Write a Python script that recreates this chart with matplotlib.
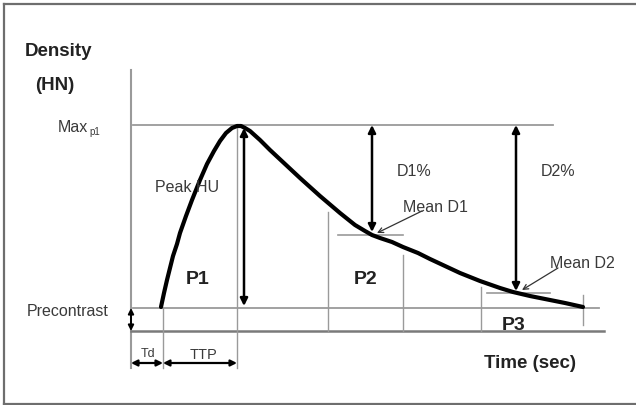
import matplotlib
matplotlib.use('Agg')
import matplotlib.pyplot as plt

plt.rcParams['font.family'] = ['Liberation Sans', 'DejaVu Sans']

# enhancement curve, in image pixel units (x right, y down)
curve_x = [161, 164, 167, 170, 173, 177, 180, 186, 192, 200, 207, 214, 220, 226,
           232, 237, 241, 245, 250, 260, 270, 285, 300, 320, 340, 355, 365, 372,
           380, 392, 403, 418, 430, 445, 460, 480, 500, 513, 530, 545, 565, 583]
curve_y = [307, 293, 280, 268, 256, 244, 233, 216, 200, 180, 164, 151, 141, 133,
           128, 126, 126, 128, 131, 140, 150, 164, 178, 196, 213, 225, 231, 235,
           238, 242, 247, 253, 259, 266, 273, 281, 288, 292, 296, 299, 303, 307]

y_max = 125
y_pre = 308
y_base = 331
x_axis = 131
x_td = 163
x_peak = 237
x_p2 = [328, 403, 481, 583]
top_p2 = [212, 255, 287, 295]

fig = plt.figure(figsize=(6.36, 4.05), dpi=100)
ax = fig.add_axes([0, 0, 1, 1])
ax.set_xlim(0, 636)
ax.set_ylim(405, 0)
ax.axis('off')

# frame
gray_f = '#6e6e6e'
ax.plot([4, 636], [4, 4], color=gray_f, lw=1.6)
ax.plot([4, 4], [4, 404], color=gray_f, lw=1.6)
ax.plot([4, 636], [404, 404], color=gray_f, lw=1.6)

g = '#9a9a9a'
# axes and reference lines
ax.plot([x_axis, x_axis], [70, 368], color=g, lw=1.5)
ax.plot([133, 553], [y_max, y_max], color=g, lw=1.3)
ax.plot([133, 599], [y_pre, y_pre], color=g, lw=1.3)
ax.plot([131, 604], [y_base, y_base], color='#7a7a7a', lw=1.8)
ax.plot([x_td, x_td], [y_pre, 368], color=g, lw=1.0)
ax.plot([x_peak, x_peak], [y_max, 368], color=g, lw=1.0)
for xv, yt in zip(x_p2, top_p2):
    ax.plot([xv, xv], [yt, y_base if xv < 583 else 325], color=g, lw=1.0)
# mean level segments
ax.plot([338, 403], [235, 235], color=g, lw=1.2)
ax.plot([487, 550], [293, 293], color=g, lw=1.2)

# curve
ax.plot(curve_x, curve_y, color='black', lw=3.0, solid_capstyle='round',
        solid_joinstyle='round')


def darrow(p0, p1, lw=1.8, ms=11):
    ax.annotate('', xy=p1, xytext=p0,
                arrowprops=dict(arrowstyle='<|-|>', lw=lw, color='black',
                                mutation_scale=ms, shrinkA=0, shrinkB=0))


darrow((244, 128), (244, 306))
darrow((372, 125), (372, 232))
darrow((516, 125), (516, 291))
darrow((x_axis, y_pre), (x_axis, y_base), lw=1.4, ms=8)
darrow((x_axis, 363), (x_td, 363), lw=1.6, ms=9)
darrow((x_td, 363), (x_peak, 363), lw=1.6, ms=9)

# pointer arrows
for tail, head in [((422, 211), (377, 233)), ((558, 268), (522, 290))]:
    ax.annotate('', xy=head, xytext=tail,
                arrowprops=dict(arrowstyle='->', lw=0.9, color='#333333',
                                mutation_scale=9, shrinkA=0, shrinkB=0))

tc = '#3a3a3a'
fs = 11.5
bold = dict(fontweight='bold', color='#222222')
ax.text(25, 52, 'Density', fontsize=13.5, va='center', ha='left', **bold)
ax.text(35, 85, '(HN)', fontsize=13.5, va='center', ha='left', **bold)
ax.text(58, 128, 'Max', fontsize=fs, va='center', ha='left', color=tc)
ax.text(89, 132, 'p1', fontsize=7, va='center', ha='left', color=tc)
ax.text(155, 188, 'Peak HU', fontsize=fs, va='center', ha='left', color=tc)
ax.text(198, 280, 'P1', fontsize=14, va='center', ha='center', **bold)
ax.text(366, 280, 'P2', fontsize=14, va='center', ha='center', **bold)
ax.text(514, 326, 'P3', fontsize=14, va='center', ha='center', **bold)
ax.text(414, 172, 'D1%', fontsize=fs, va='center', ha='center', color=tc)
ax.text(558, 172, 'D2%', fontsize=fs, va='center', ha='center', color=tc)
ax.text(403, 208, 'Mean D1', fontsize=fs, va='center', ha='left', color=tc)
ax.text(550, 264, 'Mean D2', fontsize=fs, va='center', ha='left', color=tc)
ax.text(27, 311, 'Precontrast', fontsize=fs, va='center', ha='left', color=tc)
ax.text(530, 363, 'Time (sec)', fontsize=13.5, va='center', ha='center', **bold)
ax.text(148, 354, 'Td', fontsize=9, va='center', ha='center', color=tc)
ax.text(204, 355, 'TTP', fontsize=10.5, va='center', ha='center', color=tc)

fig.savefig('out.png', dpi=100)
